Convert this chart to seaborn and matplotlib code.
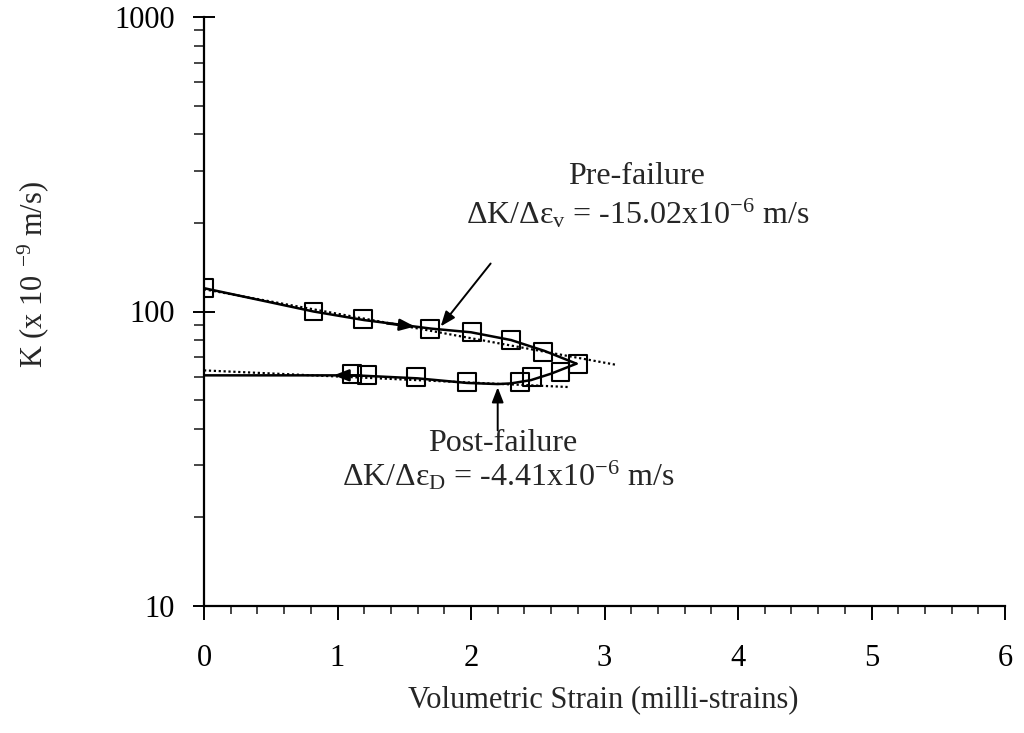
import matplotlib
matplotlib.use("Agg")
import matplotlib.pyplot as plt
import seaborn as sns
import pandas as pd
from matplotlib.ticker import FixedLocator, NullFormatter, LogLocator

# ---- data ----
pre_strain = [0.0, 0.82, 1.19, 1.69, 2.01, 2.30, 2.54, 2.80]
pre_K = [120, 100, 94, 87, 85, 80, 73, 66.5]

post_strain = [1.11, 1.22, 1.59, 1.97, 2.37, 2.46, 2.67]
post_K = [61.3, 60.8, 59.8, 57.5, 57.6, 59.8, 62.3]

pre_curve_x = [0.0, 0.82, 1.2, 1.7, 2.0, 2.3, 2.55, 2.79]
pre_curve_K = [120, 100, 93.5, 87.5, 85, 80, 73.5, 66.5]

post_curve_x = [2.79, 2.6, 2.45, 2.3, 2.2, 1.97, 1.6, 1.2, 1.0, 0.0]
post_curve_K = [66.5, 61.5, 58.5, 57.0, 56.7, 57.2, 59.3, 60.5, 60.7, 60.7]

pre_fit_x = [0.0, 3.08]
pre_fit_K = [119, 66]
post_fit_x = [0.0, 2.73]
post_fit_K = [63.1, 55.4]

x_ticks = [0, 1, 2, 3, 4, 5, 6]
y_ticks = [10, 100, 1000]

pre_label = ["Pre-failure", r"ΔK/Δε$_{\mathrm{v}}$ = -15.02x10$^{-6}$ m/s"]
post_label = ["Post-failure", r"ΔK/Δε$_{\mathrm{D}}$ = -4.41x10$^{-6}$ m/s"]

# ---- style ----
sns.set_style("ticks")
plt.rcParams["font.family"] = ["Liberation Serif", "DejaVu Serif"]
plt.rcParams["mathtext.fontset"] = "custom"
plt.rcParams["mathtext.rm"] = "Liberation Serif"
plt.rcParams["mathtext.it"] = "Liberation Serif:italic"

fig = plt.figure(figsize=(10.24, 7.33), dpi=100)
ax = fig.add_axes([204 / 1024, 1 - 606 / 733, (1005 - 204) / 1024, (606 - 17) / 733])

# fitted dotted lines
sns.lineplot(x=pre_fit_x, y=pre_fit_K, ax=ax, color="black", lw=1.6,
             linestyle=(0, (1, 1.2)), sort=False)
sns.lineplot(x=post_fit_x, y=post_fit_K, ax=ax, color="black", lw=1.6,
             linestyle=(0, (1, 1.2)), sort=False)

# solid path curves
sns.lineplot(x=pre_curve_x, y=pre_curve_K, ax=ax, color="black", lw=1.8, sort=False)
sns.lineplot(x=post_curve_x, y=post_curve_K, ax=ax, color="black", lw=1.8, sort=False)

# markers
pts = pd.DataFrame({"x": pre_strain + post_strain, "K": pre_K + post_K})
sns.scatterplot(data=pts, x="x", y="K", ax=ax, marker="s", s=165,
                facecolor="none", edgecolor="black", linewidth=1.5, zorder=5)

ax.set_yscale("log")
ax.set_xlim(0, 6)
ax.set_ylim(10, 1000)

# direction arrowheads on the curves
ax.annotate("", xy=(1.60, 88.7), xytext=(1.35, 91.3),
            arrowprops=dict(arrowstyle="-|>,head_length=0.9,head_width=0.35",
                            color="black", lw=1.8))
ax.annotate("", xy=(0.95, 60.7), xytext=(1.2, 60.7),
            arrowprops=dict(arrowstyle="-|>,head_length=0.9,head_width=0.35",
                            color="black", lw=1.8))

# annotation arrows
ax.annotate("", xy=(1.76, 87.5), xytext=(2.16, 148),
            arrowprops=dict(arrowstyle="-|>,head_length=0.9,head_width=0.35",
                            color="black", lw=1.4))
ax.annotate("", xy=(2.2, 56.5), xytext=(2.2, 38.6),
            arrowprops=dict(arrowstyle="-|>,head_length=0.9,head_width=0.35",
                            color="black", lw=1.4))

fs_ann = 23
fig.text(637 / 1024, 1 - 177 / 733, pre_label[0], ha="center", va="center", fontsize=fs_ann)
fig.text(638 / 1024, 1 - 214 / 733, pre_label[1], ha="center", va="center", fontsize=fs_ann)
fig.text(503 / 1024, 1 - 444 / 733, post_label[0], ha="center", va="center", fontsize=fs_ann)
fig.text(508 / 1024, 1 - 476 / 733, post_label[1], ha="center", va="center", fontsize=fs_ann)

# axes styling
for s in ["top", "right"]:
    ax.spines[s].set_visible(False)
for s in ["left", "bottom"]:
    ax.spines[s].set_linewidth(1.6)
    ax.spines[s].set_color("black")

ax.set_xticks(x_ticks)
ax.set_xticklabels([str(t) for t in x_ticks])
ax.xaxis.set_minor_locator(FixedLocator([i * 0.2 for i in range(31)]))
ax.yaxis.set_major_locator(FixedLocator(y_ticks))
ax.set_yticklabels([str(t) for t in y_ticks])
ax.yaxis.set_minor_locator(LogLocator(base=10, subs=range(2, 10)))
ax.yaxis.set_minor_formatter(NullFormatter())

ax.tick_params(axis="x", which="major", direction="out", length=10, width=1.4,
               labelsize=22, pad=17, colors="black")
ax.tick_params(axis="x", which="minor", direction="out", length=6, width=1.2)
ax.tick_params(axis="y", which="major", direction="inout", length=16, width=1.4,
               labelsize=22, pad=13, colors="black")
ax.tick_params(axis="y", which="minor", direction="out", length=7, width=1.2)

ax.set_xlabel("")
ax.set_ylabel("")
fig.text(603 / 1024, 1 - 700 / 733, "Volumetric Strain (milli-strains)",
         ha="center", va="center", fontsize=22)
fig.text(33 / 1024, 1 - 275 / 733, r"K (x 10 $^{-9}$ m/s)", rotation=90,
         ha="center", va="center", fontsize=22)

fig.savefig("out.png", dpi=100)
